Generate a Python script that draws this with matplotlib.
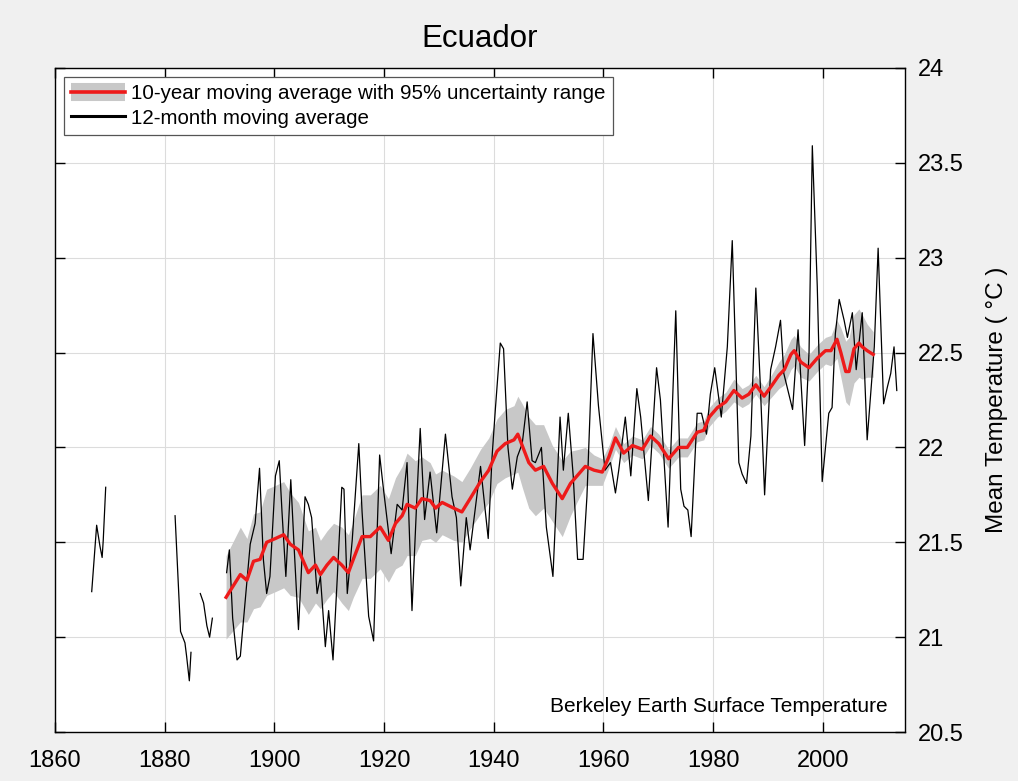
import numpy as np
import matplotlib
matplotlib.use("Agg")
import matplotlib.pyplot as plt
from matplotlib.lines import Line2D
from matplotlib.ticker import FuncFormatter

plt.rcParams['font.family'] = ['Liberation Sans', 'DejaVu Sans']

# ---------------- data ----------------
# 12-month moving average (segments separated by NaN)
annual_years = [
    1866.7, 1867.6, 1868.2, 1868.6, 1868.8, 1869.25, np.nan,
    1881.9, 1882.9, 1883.7, 1884.0, 1884.5, 1884.8, np.nan,
    1886.5, 1887.1, 1887.7, 1888.2, 1888.7, np.nan,
    1891.3, 1891.8, 1892.4, 1893.2, 1893.8, 1894.1, 1895.6, 1896.5, 1897.3, 1898.0,
    1898.6, 1899.2, 1900.2, 1900.9, 1901.4, 1902.1, 1903.0, 1903.6, 1904.4, 1905.6,
    1906.2, 1906.8, 1907.8, 1908.4, 1909.3, 1909.9, 1910.7, 1911.4, 1912.3, 1912.7,
    1913.3, 1914.2, 1915.4, 1916.0, 1917.2, 1918.1, 1919.2, 1919.9, 1921.3, 1922.4,
    1923.3, 1924.2, 1925.1, 1926.0, 1926.6, 1927.4, 1928.4, 1929.6, 1931.2, 1932.4,
    1933.2, 1934.0, 1935.0, 1935.7, 1937.6, 1939.0, 1939.7, 1940.3, 1941.2, 1941.8,
    1942.6, 1943.4, 1944.3, 1945.2, 1946.1, 1947.0, 1947.6, 1948.7, 1949.6, 1950.8,
    1952.1, 1952.7, 1953.6, 1954.5, 1955.3, 1956.3, 1957.0, 1958.1, 1959.1, 1960.3,
    1961.3, 1962.2, 1962.8, 1964.0, 1965.0, 1966.1, 1966.8, 1968.2, 1969.7, 1970.4,
    1971.8, 1973.2, 1974.1, 1974.7, 1975.4, 1976.0, 1977.1, 1977.9, 1978.8, 1979.5,
    1980.3, 1981.5, 1982.6, 1983.5, 1984.1, 1984.7, 1985.3, 1986.1, 1986.9, 1987.8,
    1988.6, 1989.4, 1990.5, 1991.4, 1992.3, 1992.9, 1994.5, 1995.5, 1996.7, 1997.5,
    1998.1, 1999.0, 1999.9, 2001.1, 2001.7, 2002.3, 2003.0, 2003.9, 2004.5, 2005.4,
    2006.1, 2007.2, 2008.1, 2009.4, 2010.1, 2011.1, 2011.8, 2012.4, 2013.0, 2013.5,
]
annual_temps = [
    21.24, 21.59, 21.48, 21.42, 21.51, 21.79, np.nan,
    21.64, 21.03, 20.97, 20.90, 20.77, 20.92, np.nan,
    21.23, 21.18, 21.06, 21.00, 21.10, np.nan,
    21.34, 21.46, 21.10, 20.88, 20.90, 21.00, 21.49, 21.60, 21.89, 21.41,
    21.23, 21.32, 21.85, 21.93, 21.66, 21.32, 21.83, 21.48, 21.04, 21.74,
    21.70, 21.63, 21.23, 21.32, 20.95, 21.14, 20.88, 21.27, 21.79, 21.78,
    21.23, 21.51, 22.02, 21.66, 21.11, 20.98, 21.96, 21.78, 21.44, 21.70,
    21.67, 21.92, 21.14, 21.74, 22.10, 21.62, 21.87, 21.55, 22.07, 21.74,
    21.63, 21.27, 21.63, 21.46, 21.90, 21.52, 21.95, 22.20, 22.55, 22.52,
    22.00, 21.78, 21.95, 22.02, 22.24, 21.93, 21.92, 22.00, 21.58, 21.32,
    22.16, 21.88, 22.18, 21.85, 21.41, 21.41, 21.74, 22.60, 22.22, 21.88,
    21.92, 21.76, 21.88, 22.16, 21.85, 22.31, 22.16, 21.72, 22.42, 22.25,
    21.58, 22.72, 21.78, 21.69, 21.67, 21.53, 22.18, 22.18, 22.07, 22.28,
    22.42, 22.16, 22.53, 23.09, 22.51, 21.92, 21.86, 21.81, 22.06, 22.84,
    22.34, 21.75, 22.41, 22.53, 22.67, 22.39, 22.20, 22.62, 22.01, 22.50,
    23.59, 22.85, 21.82, 22.18, 22.21, 22.60, 22.78, 22.67, 22.58, 22.71,
    22.41, 22.71, 22.04, 22.53, 23.05, 22.23, 22.32, 22.39, 22.53, 22.30,
]

# 10-year moving average and 95% uncertainty half-width
decadal_years = [
    1891.2, 1893.8, 1895.0, 1896.2, 1897.4, 1898.6, 1900.2, 1901.7, 1902.9, 1904.4,
    1906.2, 1907.5, 1908.4, 1909.6, 1910.8, 1912.3, 1913.5, 1914.4, 1916.0, 1917.5,
    1919.3, 1920.8, 1922.1, 1923.3, 1924.2, 1925.7, 1926.9, 1928.4, 1929.4, 1930.6,
    1932.7, 1934.2, 1935.7, 1937.6, 1939.1, 1940.6, 1942.1, 1943.7, 1944.4, 1945.2,
    1946.4, 1947.6, 1949.1, 1950.7, 1952.5, 1954.0, 1955.5, 1956.7, 1958.3, 1959.8,
    1961.0, 1962.2, 1963.7, 1965.3, 1967.1, 1968.6, 1970.1, 1971.9, 1973.7, 1975.3,
    1977.1, 1978.3, 1979.3, 1980.8, 1982.3, 1983.8, 1985.3, 1986.5, 1987.8, 1989.3,
    1990.8, 1992.0, 1993.0, 1994.2, 1994.8, 1996.0, 1997.5, 1999.0, 2000.5, 2001.5,
    2002.6, 2003.3, 2004.2, 2004.8, 2005.7, 2006.6, 2007.2, 2008.1, 2009.2,
]
decadal_temps = [
    21.21, 21.33, 21.30, 21.40, 21.41, 21.50, 21.52, 21.54, 21.49, 21.46,
    21.34, 21.38, 21.33, 21.38, 21.42, 21.38, 21.34, 21.41, 21.53, 21.53,
    21.58, 21.51, 21.60, 21.64, 21.70, 21.68, 21.73, 21.72, 21.68, 21.71,
    21.68, 21.66, 21.73, 21.82, 21.88, 21.98, 22.02, 22.04, 22.07, 22.01,
    21.92, 21.88, 21.90, 21.81, 21.73, 21.81, 21.86, 21.90, 21.88, 21.87,
    21.95, 22.05, 21.97, 22.01, 21.99, 22.06, 22.02, 21.94, 22.00, 22.00,
    22.08, 22.09, 22.16, 22.21, 22.24, 22.30, 22.26, 22.28, 22.33, 22.27,
    22.33, 22.38, 22.41, 22.49, 22.51, 22.45, 22.42, 22.47, 22.51, 22.51,
    22.57, 22.50, 22.40, 22.40, 22.52, 22.55, 22.53, 22.51, 22.49,
]
decadal_unc = [
    0.22, 0.25, 0.22, 0.25, 0.25, 0.28, 0.28, 0.28, 0.27, 0.25,
    0.22, 0.20, 0.18, 0.18, 0.18, 0.20, 0.20, 0.20, 0.22, 0.22,
    0.22, 0.22, 0.24, 0.26, 0.27, 0.25, 0.22, 0.20, 0.18, 0.17,
    0.17, 0.16, 0.16, 0.17, 0.17, 0.17, 0.18, 0.18, 0.20, 0.22,
    0.24, 0.24, 0.22, 0.20, 0.20, 0.17, 0.13, 0.10, 0.08, 0.07,
    0.06, 0.06, 0.05, 0.05, 0.05, 0.05, 0.05, 0.05, 0.05, 0.05,
    0.05, 0.05, 0.05, 0.05, 0.05, 0.06, 0.05, 0.05, 0.05, 0.05,
    0.06, 0.07, 0.08, 0.08, 0.08, 0.08, 0.07, 0.07, 0.07, 0.08,
    0.10, 0.13, 0.16, 0.18, 0.18, 0.18, 0.17, 0.14, 0.12,
]

x_ticks = [1860, 1880, 1900, 1920, 1940, 1960, 1980, 2000]
y_ticks = [20.5, 21, 21.5, 22, 22.5, 23, 23.5, 24]

title = "Ecuador"
legend_labels = ["10-year moving average with 95% uncertainty range",
                 "12-month moving average"]
credit = "Berkeley Earth Surface Temperature"
ylabel = "Mean Temperature ( \u00b0C )"

# ---------------- plot ----------------
fig = plt.figure(figsize=(10.18, 7.81), dpi=100, facecolor='#f0f0f0')
ax = fig.add_axes([0.054, 0.0627, 0.835, 0.8503])
ax.set_facecolor('white')

dy = np.array(decadal_years)
dt = np.array(decadal_temps)
du = np.array(decadal_unc)
ax.fill_between(dy, dt - du, dt + du, color='#c8c8c8', linewidth=0, zorder=2)
ax.plot(annual_years, annual_temps, color='black', linewidth=0.9, zorder=3)
ax.plot(dy, dt, color='#ee1a1a', linewidth=2.4, zorder=4)

ax.set_xlim(1860, 2015)
ax.set_ylim(20.5, 24)
ax.set_xticks(x_ticks)
ax.set_yticks(y_ticks)
ax.yaxis.set_major_formatter(FuncFormatter(lambda v, p: "%g" % v))
ax.grid(True, color='#dcdcdc', linewidth=0.8, zorder=0)
ax.set_axisbelow(True)

ax.tick_params(axis='both', direction='in', length=7, width=1, labelsize=17,
               top=True, right=True, left=True, bottom=True,
               labelleft=False, labelright=True)
ax.tick_params(axis='y', pad=9)
ax.tick_params(axis='x', pad=13)
for s in ax.spines.values():
    s.set_linewidth(1.0)
    s.set_color('black')

ax.yaxis.set_label_position('right')
ax.set_ylabel(ylabel, fontsize=17.5, labelpad=16)
ax.set_title(title, fontsize=22.5, pad=15)

band_handle = Line2D([], [], color='#c8c8c8', linewidth=13, solid_capstyle='butt')
red_handle = Line2D([], [], color='#ee1a1a', linewidth=2.6)
black_handle = Line2D([], [], color='black', linewidth=2.2)
leg = ax.legend([(band_handle, red_handle), black_handle], legend_labels,
                loc='upper left', fontsize=14.8, handlelength=2.6,
                handletextpad=0.3, borderaxespad=0.45, borderpad=0.35,
                labelspacing=0.25, fancybox=False, framealpha=1)
leg.get_frame().set_edgecolor('#555555')
leg.get_frame().set_linewidth(0.9)
leg._legend_box.align = 'left'

ax.text(0.979, 0.0377, credit, transform=ax.transAxes, ha='right', va='center',
        fontsize=15)

fig.savefig('out.png', dpi=100, facecolor=fig.get_facecolor())
